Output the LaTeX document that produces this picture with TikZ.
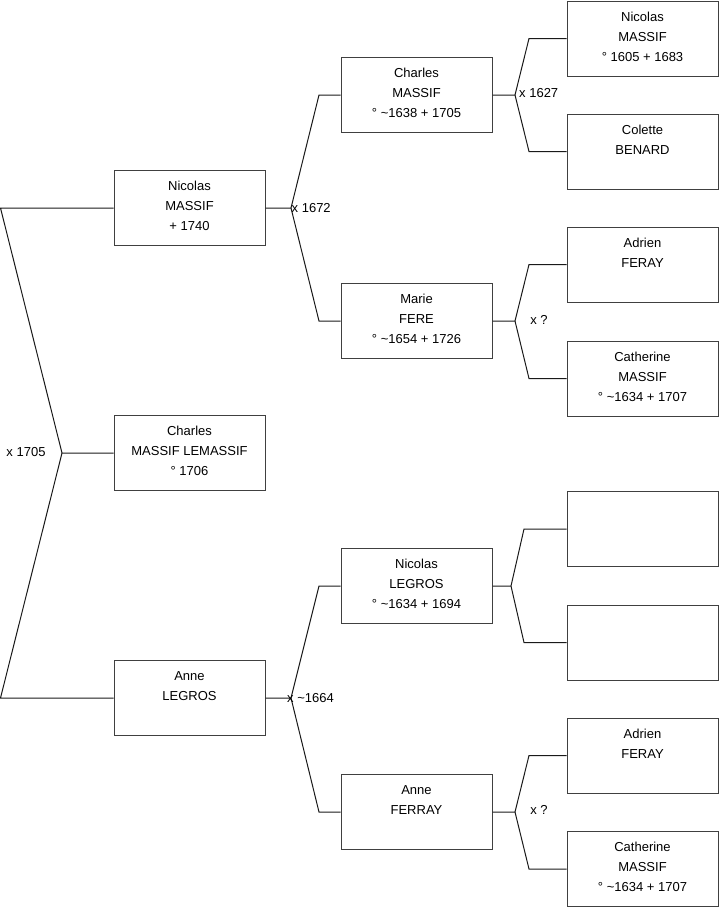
\documentclass[tikz,border=0pt]{standalone}
\usepackage{fontspec}
\setmainfont{Liberation Sans}
\usepackage{xcolor}
\definecolor{cBox}{HTML}{404040}
\definecolor{cLink}{HTML}{1A1A1A}
\usepackage{tikz}
\tikzset{
  person-box/.style={draw=cBox,line width=1pt,minimum width=151pt,
    minimum height=75pt,inner sep=0pt},
  person-text/.style={anchor=north,inner sep=0pt,align=center,yshift=-11pt,
    font=\fontsize{13}{20}\selectfont},
  link/.style={draw=cLink,line width=1pt},
  union/.style={font=\fontsize{13}{16}\selectfont,inner sep=0pt},
}

\begin{document}
\begin{tikzpicture}[x=1pt,y=-1pt]
  \useasboundingbox (0,0) rectangle (719,908);
  % generation 1
  \node[person-box,label={[person-text]north:Nicolas\\MASSIF\\+ 1740}]             (nicolas)  at (189.5,208) {};
  \node[person-box,label={[person-text]north:Charles\\MASSIF LEMASSIF\\° 1706}]    (charles)  at (189.5,453) {};
  \node[person-box,label={[person-text]north:Anne\\LEGROS}]                         (anne)     at (189.5,698) {};
  % generation 2
  \node[person-box,label={[person-text]north:Charles\\MASSIF\\° \textasciitilde1638 + 1705}] (charles-f) at (416.5,95)  {};
  \node[person-box,label={[person-text]north:Marie\\FERE\\° \textasciitilde1654 + 1726}]     (marie)     at (416.5,321) {};
  \node[person-box,label={[person-text]north:Nicolas\\LEGROS\\° \textasciitilde1634 + 1694}] (nicolas-l) at (416.5,586) {};
  \node[person-box,label={[person-text]north:Anne\\FERRAY}]                                  (anne-f)    at (416.5,812) {};
  % generation 3
  \node[person-box,label={[person-text]north:Nicolas\\MASSIF\\° 1605 + 1683}]                  (nicolas-ff)  at (642.5,38.5)  {};
  \node[person-box,label={[person-text]north:Colette\\BENARD}]                                 (colette)     at (642.5,151.5) {};
  \node[person-box,label={[person-text]north:Adrien\\FERAY}]                                   (adrien-1)    at (642.5,264.5) {};
  \node[person-box,label={[person-text]north:Catherine\\MASSIF\\° \textasciitilde1634 + 1707}] (catherine-1) at (642.5,378.5) {};
  \node[person-box]                                                                            (blank-1)     at (642.5,529)   {};
  \node[person-box]                                                                            (blank-2)     at (642.5,642.5) {};
  \node[person-box,label={[person-text]north:Adrien\\FERAY}]                                   (adrien-2)    at (642.5,755.5) {};
  \node[person-box,label={[person-text]north:Catherine\\MASSIF\\° \textasciitilde1634 + 1707}] (catherine-2) at (642.5,869)   {};

  % forks
  \coordinate (f0)  at (62,453);
  \coordinate (f0a) at (0.5,208);
  \coordinate (f0b) at (0.5,698);
  \coordinate (f1)  at (291,208);
  \coordinate (f1a) at (319,95);
  \coordinate (f1b) at (319,321);
  \coordinate (f2)  at (291,698);
  \coordinate (f2a) at (319,586);
  \coordinate (f2b) at (319,812);
  \coordinate (f3)  at (515,95);
  \coordinate (f3a) at (529,38.5);
  \coordinate (f3b) at (529,151.5);
  \coordinate (f4)  at (515,321);
  \coordinate (f4a) at (529,264.5);
  \coordinate (f4b) at (529,378.5);
  \coordinate (f5)  at (511,586);
  \coordinate (f5a) at (524,529);
  \coordinate (f5b) at (524,642.5);
  \coordinate (f6)  at (515,812);
  \coordinate (f6a) at (529,755.5);
  \coordinate (f6b) at (529,869);

  \draw[link] (charles.west) -- (f0) -- (f0a) -- (nicolas.west);
  \draw[link] (f0) -- (f0b) -- (anne.west);
  \draw[link] (nicolas.east) -- (f1) -- (f1a) -- (charles-f.west);
  \draw[link] (f1) -- (f1b) -- (marie.west);
  \draw[link] (anne.east) -- (f2) -- (f2a) -- (nicolas-l.west);
  \draw[link] (f2) -- (f2b) -- (anne-f.west);
  \draw[link] (charles-f.east) -- (f3) -- (f3a) -- (nicolas-ff.west);
  \draw[link] (f3) -- (f3b) -- (colette.west);
  \draw[link] (marie.east) -- (f4) -- (f4a) -- (adrien-1.west);
  \draw[link] (f4) -- (f4b) -- (catherine-1.west);
  \draw[link] (nicolas-l.east) -- (f5) -- (f5a) -- (blank-1.west);
  \draw[link] (f5) -- (f5b) -- (blank-2.west);
  \draw[link] (anne-f.east) -- (f6) -- (f6a) -- (adrien-2.west);
  \draw[link] (f6) -- (f6b) -- (catherine-2.west);

  % marriages
  \node[union]              (m0) at (26,452)    {x 1705};
  \node[union,anchor=west]  (m1) at (291.5,208) {x 1672};
  \node[union,anchor=west]  (m2) at (287,698)   {x \textasciitilde1664};
  \node[union,anchor=west]  (m3) at (519,93)    {x 1627};
  \node[union]              (m4) at (539,320)   {x ?};
  \node[union]              (m6) at (539,810)   {x ?};
\end{tikzpicture}
\end{document}
